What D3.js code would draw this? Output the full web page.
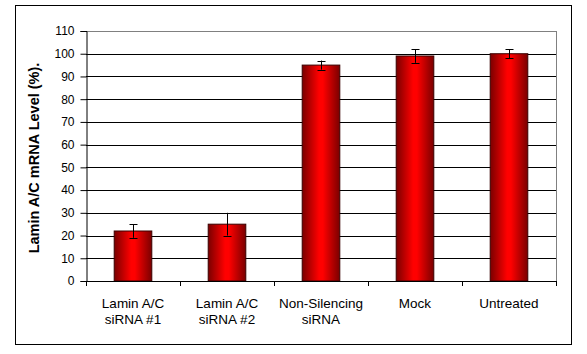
<!DOCTYPE html>
<html>
<head>
<meta charset="utf-8">
<script src="https://cdn.jsdelivr.net/npm/d3@7"></script>
<style>
  body { margin: 0; background: #fff; }
  text { font-family: Arial, "Liberation Sans", sans-serif; }
</style>
</head>
<body>
<div id="chart"></div>
<script>
// chart data
const categories = [["Lamin A/C", "siRNA #1"], ["Lamin A/C", "siRNA #2"], ["Non-Silencing", "siRNA"], ["Mock"], ["Untreated"]];
const values = [22, 25, 95, 99, 100];
const errors = [3, 5, 2, 3, 2];
const yTicks = [0, 10, 20, 30, 40, 50, 60, 70, 80, 90, 100, 110];

const width = 587, height = 354;
const margin = { left: 86, right: 31, top: 31, bottom: 73 };

const svg = d3.select("#chart").append("svg")
  .attr("width", width)
  .attr("height", height);

// outer frame
svg.append("rect")
  .attr("x", 15.5).attr("y", 5.5)
  .attr("width", 556).attr("height", 339)
  .attr("fill", "#fff").attr("stroke", "#000");

const x = d3.scaleBand()
  .domain(d3.range(categories.length))
  .range([margin.left, width - margin.right])
  .paddingInner(0.6).paddingOuter(0.3);

const y = d3.scaleLinear()
  .domain([0, 110])
  .range([height - margin.bottom, margin.top]);

// gradient for bars
const grad = svg.append("defs").append("linearGradient")
  .attr("id", "barGrad").attr("x1", "0%").attr("x2", "100%");
grad.append("stop").attr("offset", "0%").attr("stop-color", "#7a0000");
grad.append("stop").attr("offset", "45%").attr("stop-color", "#ff0000");
grad.append("stop").attr("offset", "55%").attr("stop-color", "#ff0000");
grad.append("stop").attr("offset", "100%").attr("stop-color", "#7a0000");

// gridlines
svg.append("g")
  .selectAll("line")
  .data(yTicks.filter(t => t > 0))
  .join("line")
  .attr("x1", margin.left).attr("x2", width - margin.right)
  .attr("y1", d => Math.round(y(d)) + 0.5).attr("y2", d => Math.round(y(d)) + 0.5)
  .attr("stroke", d => d === 110 ? "#808080" : "#000");

// right border of plot area
svg.append("line")
  .attr("x1", width - margin.right + 0.5).attr("x2", width - margin.right + 0.5)
  .attr("y1", y(110)).attr("y2", y(0))
  .attr("stroke", "#808080");

// bars
svg.append("g")
  .selectAll("rect")
  .data(values)
  .join("rect")
  .attr("x", (d, i) => x(i))
  .attr("y", d => y(d))
  .attr("width", x.bandwidth())
  .attr("height", d => y(0) - y(d))
  .attr("fill", "url(#barGrad)")
  .attr("stroke", "#3a0000")
  .attr("stroke-width", 1);

// error bars
const eb = svg.append("g").attr("stroke", "#000").attr("stroke-width", 1);
values.forEach((v, i) => {
  const cx = Math.round(x(i) + x.bandwidth() / 2) + 0.5;
  eb.append("line").attr("x1", cx).attr("x2", cx)
    .attr("y1", y(v + errors[i])).attr("y2", y(v - errors[i]));
  [v + errors[i], v - errors[i]].forEach(e => {
    eb.append("line").attr("x1", cx - 4).attr("x2", cx + 4)
      .attr("y1", Math.round(y(e)) + 0.5).attr("y2", Math.round(y(e)) + 0.5);
  });
});

// y axis
const yAxis = svg.append("g")
  .attr("transform", `translate(${margin.left + 0.5},0)`)
  .call(d3.axisLeft(y).tickValues(yTicks).tickSize(6).tickPadding(6));
yAxis.selectAll("text").attr("font-size", 12).attr("fill", "#000");
yAxis.selectAll("line").attr("stroke", "#000");
yAxis.select(".domain").attr("stroke", "#000");

// x axis with ticks at category boundaries
const x0 = margin.left, step = (width - margin.right - margin.left) / categories.length;
svg.append("line")
  .attr("x1", x0).attr("x2", width - margin.right + 1)
  .attr("y1", y(0) + 0.5).attr("y2", y(0) + 0.5)
  .attr("stroke", "#000");
svg.append("g")
  .selectAll("line")
  .data(d3.range(categories.length + 1))
  .join("line")
  .attr("x1", i => Math.round(x0 + i * step) + 0.5)
  .attr("x2", i => Math.round(x0 + i * step) + 0.5)
  .attr("y1", y(0)).attr("y2", y(0) + 5)
  .attr("stroke", "#000");

// category labels
svg.append("g")
  .selectAll("text")
  .data(categories)
  .join("text")
  .attr("text-anchor", "middle")
  .attr("font-size", 13.5)
  .attr("fill", "#000")
  .each(function (lines, i) {
    const t = d3.select(this);
    lines.forEach((l, j) => {
      t.append("tspan")
        .attr("x", x(i) + x.bandwidth() / 2)
        .attr("y", y(0) + 27 + j * 16)
        .text(l);
    });
  });

// y axis title
svg.append("text")
  .attr("transform", `translate(39,${(y(0) + y(110)) / 2 + 2}) rotate(-90)`)
  .attr("text-anchor", "middle")
  .attr("font-size", 14.5)
  .attr("font-weight", "bold")
  .attr("fill", "#000")
  .text("Lamin A/C mRNA Level (%).");
</script>
</body>
</html>
